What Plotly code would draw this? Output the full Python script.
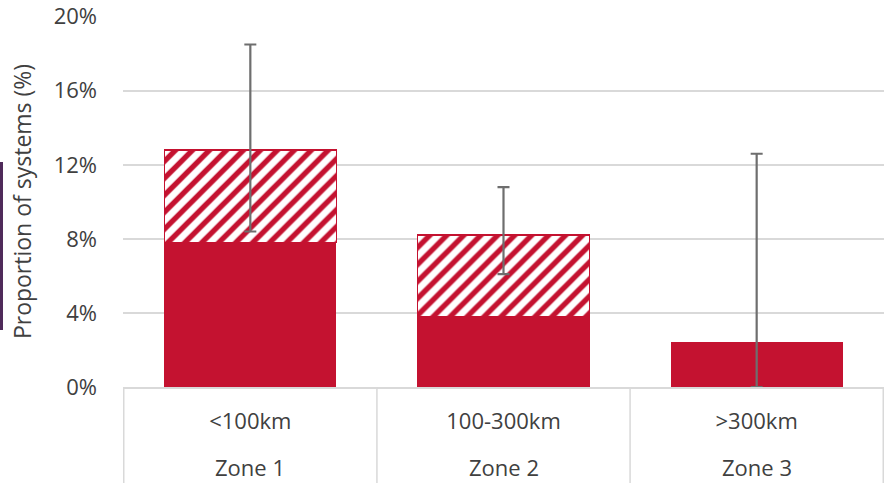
import plotly.graph_objects as go

zones = ["Zone 1", "Zone 2", "Zone 3"]
distances = ["<100km", "100-300km", ">300km"]
solid_values = [7.8, 3.8, 2.4]
hatched_values = [5.0, 4.4, 0.0]
err_plus = [5.7, 2.6, 10.2]
err_minus = [4.4, 2.1, 2.4]
y_ticks = [0, 4, 8, 12, 16, 20]
y_tick_labels = ["0%", "4%", "8%", "12%", "16%", "20%"]

RED = "#C41230"
TEXT = "#404040"
GRID = "#D9D9D9"
FONT = "Open Sans"

W, H = 884, 483
ML, MR, MT, MB = 123, 0, 16, 96
PW, PH = W - ML - MR, H - MT - MB

totals = [s + h for s, h in zip(solid_values, hatched_values)]

fig = go.Figure()
fig.add_trace(go.Bar(
    x=distances, y=solid_values, marker=dict(color=RED, line=dict(width=0)),
    showlegend=False, hoverinfo="skip"))
fig.add_trace(go.Bar(
    x=distances, y=hatched_values,
    marker=dict(color="white",
                line=dict(color=RED, width=1.5),
                pattern=dict(shape="/", fgcolor=RED, bgcolor="white", fgopacity=1,
                             size=12, solidity=0.45, fillmode="replace")),
    showlegend=False, hoverinfo="skip"))
fig.add_trace(go.Scatter(
    x=distances, y=totals, mode="markers", marker=dict(size=1, color="rgba(0,0,0,0)"),
    error_y=dict(type="data", symmetric=False, array=err_plus, arrayminus=err_minus,
                 color="#6E6E6E", thickness=2.2, width=6),
    showlegend=False, hoverinfo="skip"))

fig.update_layout(
    width=W, height=H,
    margin=dict(l=ML, r=MR, t=MT, b=MB),
    paper_bgcolor="white", plot_bgcolor="white",
    barmode="stack", bargap=0.32,
    font=dict(family=FONT, size=22, color=TEXT),
)
fig.update_yaxes(
    range=[0, 20.04], tickvals=y_ticks, ticktext=y_tick_labels,
    showgrid=True, gridcolor=GRID, gridwidth=1.5,
    zeroline=False, showline=False,
    ticklabelstandoff=25,
    tickfont=dict(size=22, color=TEXT),
    title=dict(text="Proportion of systems (%)", font=dict(size=23, color=TEXT), standoff=15),
    automargin=False,
)
fig.update_xaxes(
    type="category",
    showline=True, linecolor=GRID, linewidth=1.5,
    ticks="", ticklabelstandoff=14,
    tickfont=dict(size=22, color=TEXT),
    showgrid=False, automargin=False,
)
# outer (zone) labels under the distance labels
for d, z in zip(distances, zones):
    fig.add_annotation(x=d, xref="x", y=-80 / PH, yref="paper", text=z,
                       showarrow=False, yanchor="middle",
                       font=dict(size=22, color=TEXT))
# category dividers
for i in range(len(distances) + 1):
    fig.add_shape(type="line", xref="x", yref="paper",
                  x0=i - 0.5, x1=i - 0.5, y0=0, y1=-MB / PH,
                  line=dict(color=GRID, width=1.5))
# purple edge mark at far left
fig.add_shape(type="rect", xref="paper", yref="paper",
              x0=-ML / PW, x1=-(ML - 3) / PW,
              y0=(387 - 330) / PH, y1=(387 - 162) / PH,
              line=dict(width=0), fillcolor="#4F2A5A", layer="above")

fig.write_html("out.html",
               config={"displayModeBar": False},
               post_script="document.body.style.margin='0';document.body.style.overflow='hidden';")
